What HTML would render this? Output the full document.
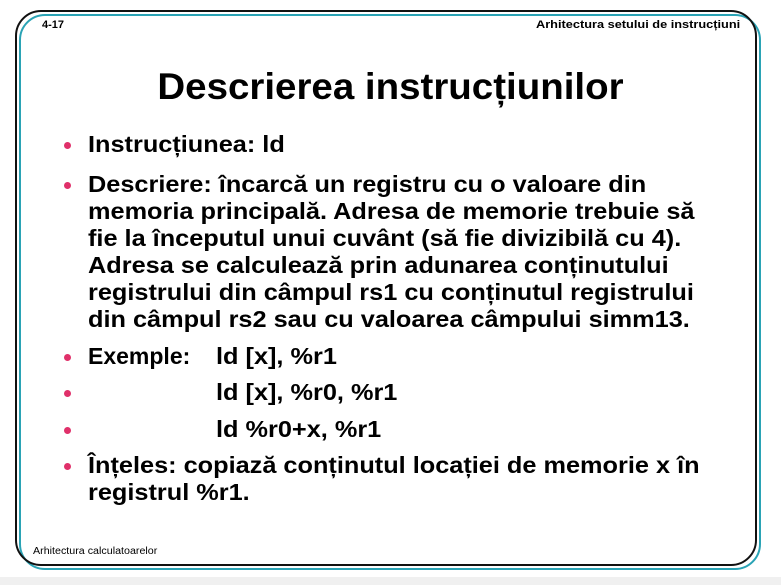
<!DOCTYPE html>
<html><head><meta charset="utf-8"><style>
html,body{margin:0;padding:0}
body{width:781px;height:585px;position:relative;overflow:hidden;background:#fff;font-family:"Liberation Sans",sans-serif;font-weight:bold;color:#000}
.fr{position:absolute;border-radius:26px}
.t{position:absolute;white-space:nowrap;font-size:23px;line-height:27px;transform:scaleX(1.1);transform-origin:0 0}
.b{position:absolute;width:7px;height:7px;border-radius:50%;background:#e0306a}
</style></head><body>
<div style="position:absolute;left:0;top:577px;width:781px;height:8px;background:#f0f0f0"></div>
<div class="fr" style="left:19px;top:14px;width:738px;height:552px;border:2.5px solid #2aa3b5"></div>
<div class="fr" style="left:15px;top:10px;width:738px;height:552px;border:2.5px solid #111"></div>
<div style="position:absolute;left:42px;top:19px;font-size:11px">4-17</div>
<div style="position:absolute;left:536px;top:19px;font-size:11px;transform:scaleX(1.16);transform-origin:0 0;white-space:nowrap">Arhitectura setului de instrucțiuni</div>
<div style="position:absolute;left:0;width:781px;top:66px;text-align:center;font-size:37px;transform:scaleX(1.04)">Descrierea instrucțiunilor</div>
<div class="b" style="left:64px;top:142px"></div><div class="t" style="left:88px;top:131px">Instrucțiunea: ld</div>
<div class="b" style="left:64px;top:182px"></div>
<div class="t" style="left:88px;top:171px">Descriere: încarcă un registru cu o valoare din</div>
<div class="t" style="left:88px;top:198px">memoria principală. Adresa de memorie trebuie să</div>
<div class="t" style="left:88px;top:225px">fie la începutul unui cuvânt (să fie divizibilă cu 4).</div>
<div class="t" style="left:88px;top:252px">Adresa se calculează prin adunarea conținutului</div>
<div class="t" style="left:88px;top:279px">registrului din câmpul rs1 cu conținutul registrului</div>
<div class="t" style="left:88px;top:306px">din câmpul rs2 sau cu valoarea câmpului simm13.</div>
<div class="b" style="left:64px;top:354px"></div><div class="t" style="left:88px;top:343px;transform:scaleX(1)">Exemple:</div><div class="t" style="left:216px;top:343px">ld [x], %r1</div>
<div class="b" style="left:64px;top:390px"></div><div class="t" style="left:216px;top:379px">ld [x], %r0, %r1</div>
<div class="b" style="left:64px;top:427px"></div><div class="t" style="left:216px;top:416px">ld %r0+x, %r1</div>
<div class="b" style="left:64px;top:463px"></div>
<div class="t" style="left:88px;top:452px">Înțeles: copiază conținutul locației de memorie x în</div>
<div class="t" style="left:88px;top:479px">registrul %r1.</div>
<div style="position:absolute;left:33px;top:546px;font-size:10px;font-weight:normal;transform:scaleX(1.07);transform-origin:0 0;white-space:nowrap">Arhitectura calculatoarelor</div>
</body></html>
